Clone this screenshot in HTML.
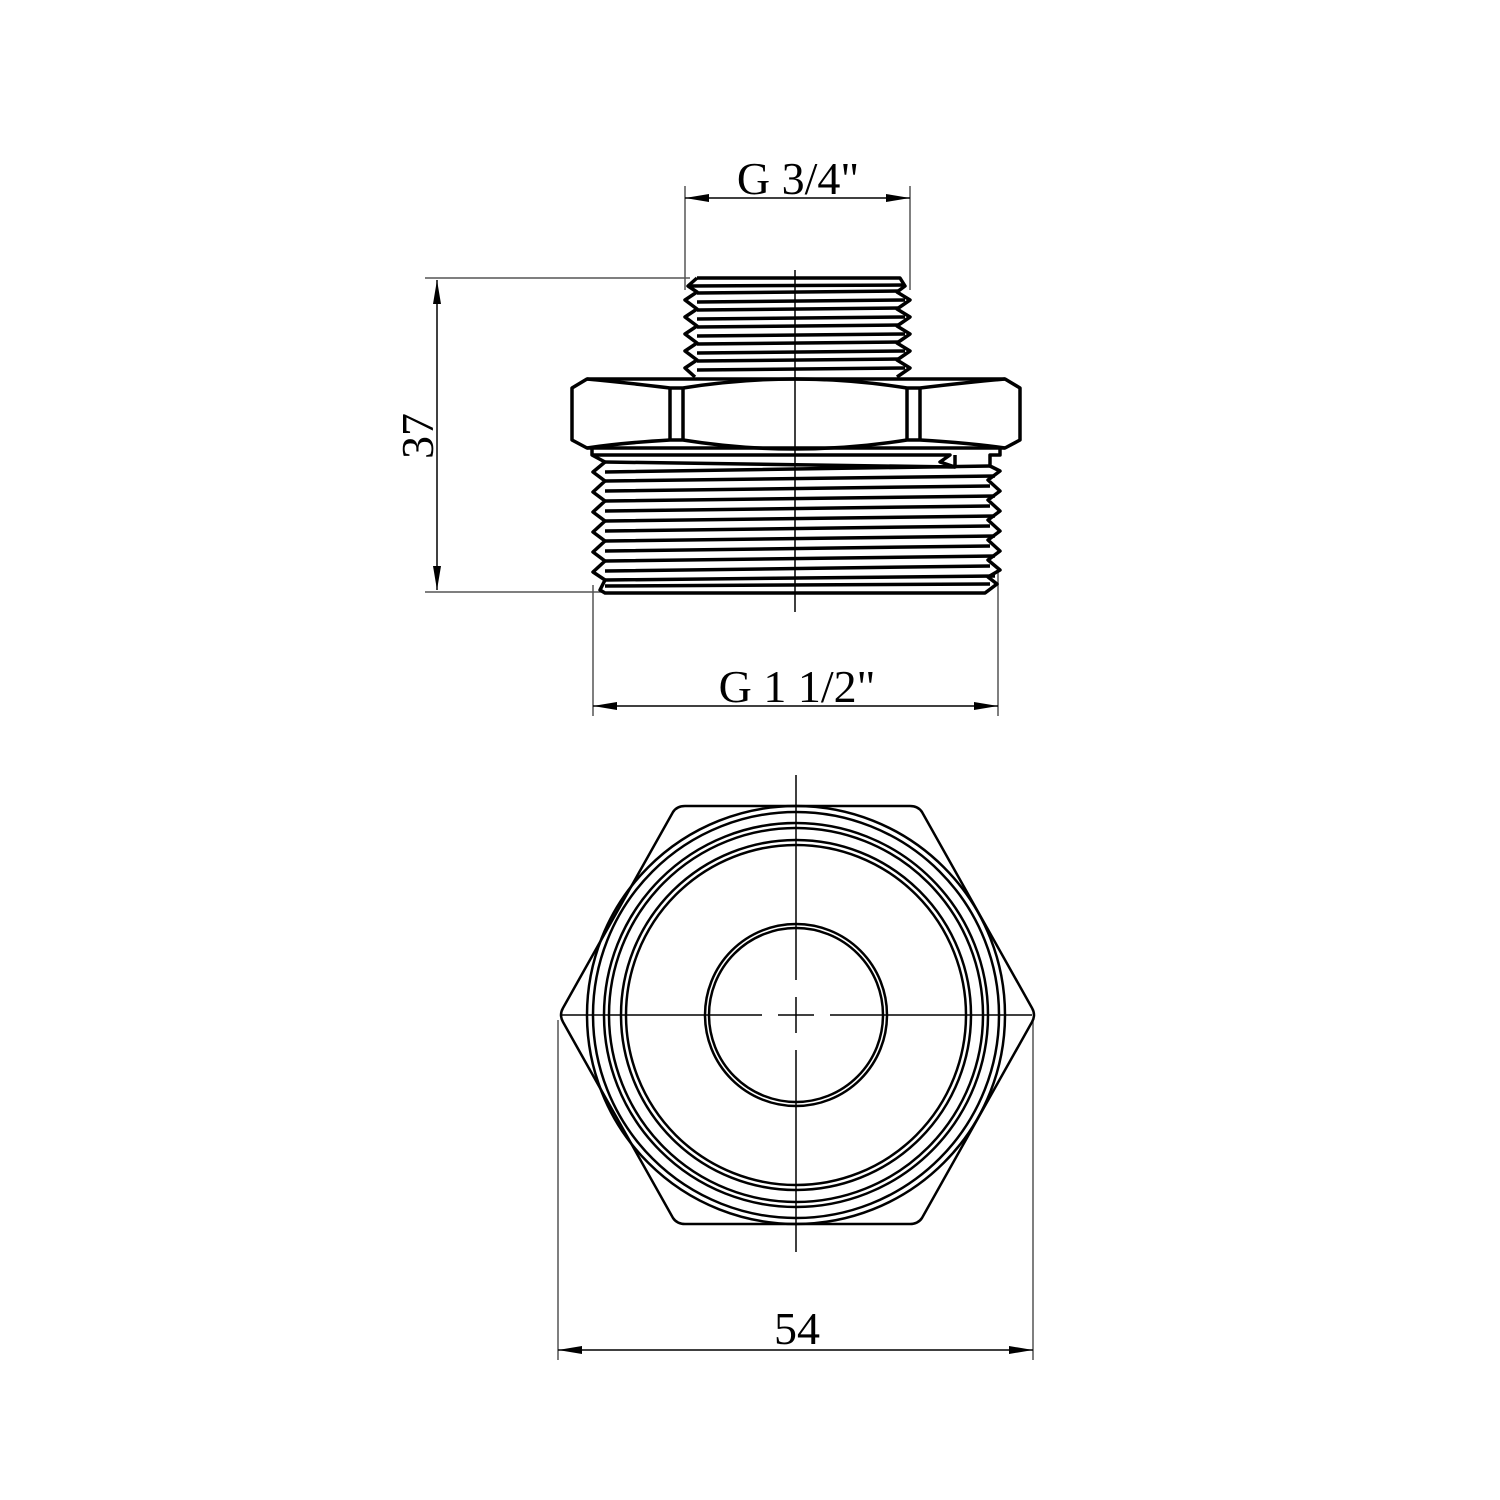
<!DOCTYPE html>
<html><head><style>html,body{margin:0;padding:0;background:#fff}svg{display:block}</style></head>
<body>
<svg width="1500" height="1500" viewBox="0 0 1500 1500" xmlns="http://www.w3.org/2000/svg">
<defs>
<marker id="a" viewBox="0 0 24 8" refX="24" refY="4" markerWidth="24" markerHeight="8" markerUnits="userSpaceOnUse" orient="auto-start-reverse"><path d="M0,0 L24,4 L0,8 Z" fill="#000"/></marker>
</defs>
<g font-family="Liberation Serif, serif" font-size="46" fill="#000">
<text x="798" y="194" text-anchor="middle">G 3/4"</text>
<text x="797" y="702" text-anchor="middle">G 1 1/2"</text>
<text x="797" y="1344" text-anchor="middle">54</text>
<text transform="translate(433,436) rotate(-90)" text-anchor="middle">37</text>
</g>
<g stroke="#555" stroke-width="1.5" fill="none">
<line x1="685" y1="186" x2="685" y2="290"/>
<line x1="910" y1="186" x2="910" y2="290"/>
<line x1="425" y1="278" x2="690" y2="278"/>
<line x1="425" y1="592" x2="605" y2="592"/>
<line x1="593" y1="585" x2="593" y2="716"/>
<line x1="998" y1="570" x2="998" y2="716"/>
<line x1="558" y1="1020" x2="558" y2="1360"/>
<line x1="1033" y1="1020" x2="1033" y2="1360"/>
</g>
<g stroke="#000" stroke-width="1.5">
<line x1="685" y1="198" x2="910" y2="198" marker-start="url(#a)" marker-end="url(#a)"/>
<line x1="593" y1="706" x2="998" y2="706" marker-start="url(#a)" marker-end="url(#a)"/>
<line x1="437" y1="280" x2="437" y2="590" marker-start="url(#a)" marker-end="url(#a)"/>
<line x1="558" y1="1350" x2="1033" y2="1350" marker-start="url(#a)" marker-end="url(#a)"/>
</g>
<g stroke="#000" stroke-width="3.5" fill="none" stroke-linejoin="round">
<path d="M697,278 L900,278 L905,286 L897,292 L910,300 L897,309 L910,317 L897,326 L910,334 L897,343 L910,351 L897,360 L910,368 L897,377"/>
<path d="M697,278 L688,286 L697,292 L685,300 L697,309 L685,317 L697,326 L685,334 L697,343 L685,351 L697,360 L685,368 L695,377"/>
<path d="M690,286 L905,285 M697,293 L900,291 M697,302 L905,300 M697,310 L900,308 M697,319 L905,317 M697,327 L900,325 M697,336 L905,334 M697,344 L900,342 M697,353 L905,351 M697,361 L900,359 M697,370 L905,368"/>
<path d="M587,379 L1005,379 L1020,388 L1020,440 L1005,448 L587,448 L572,440 L572,388 Z"/>
<path d="M670,388 L670,440 M683,388 L683,440 M907,388 L907,440 M920,388 L920,440"/>
<path d="M587,379 Q620,382 670,388 L683,388 Q795,370 907,388 L920,388 Q970,382 1005,379"/>
<path d="M587,448 Q620,443 670,440 L683,440 Q795,458 907,440 L920,440 Q970,443 1005,448"/>
<path d="M592,448 L592,455 L605,462 L593,472 L605,481 L593,492 L605,501 L593,512 L605,521 L593,532 L605,541 L593,552 L605,561 L593,572 L605,580 L600,590 L605,593 L985,593 L997,584 L988,577 L1000,570 L988,560 L1000,551 L988,540 L1000,531 L988,520 L1000,511 L988,500 L1000,491 L988,480 L1000,471 L990,466 L990,455 L1000,455 L1000,448"/>
<path d="M592,455 L950,455 L940,462 L955,467 L955,455"/>
<path d="M605,462 L955,467 M605,472 L990,466 M605,481 L995,476 M605,491 L990,486 M605,501 L995,496 M605,511 L990,506 M605,521 L995,516 M605,531 L990,526 M605,541 L995,536 M605,551 L990,546 M605,561 L995,556 M605,571 L990,566 M605,580 L995,576 M605,586 L990,584"/>
</g>
<line x1="795" y1="270" x2="795" y2="612" stroke="#000" stroke-width="1.5"/>
<g stroke="#000" stroke-width="2.5" fill="none">
<path d="M685,806 L910,806 Q918,806 922,812 L1032,1008 Q1036,1015 1032,1022 L922,1218 Q918,1224 910,1224 L685,1224 Q677,1224 673,1218 L563,1022 Q559,1015 563,1008 L673,812 Q677,806 685,806 Z"/>
<circle cx="796" cy="1015" r="209"/>
<circle cx="796" cy="1015" r="203"/>
<circle cx="796" cy="1015" r="192"/>
<circle cx="796" cy="1015" r="187"/>
<circle cx="796" cy="1015" r="175"/>
<circle cx="796" cy="1015" r="170"/>
<circle cx="796" cy="1015" r="91"/>
<circle cx="796" cy="1015" r="87"/>
</g>
<g stroke="#000" stroke-width="1.5">
<line x1="796" y1="775" x2="796" y2="980"/>
<line x1="796" y1="997" x2="796" y2="1033"/>
<line x1="796" y1="1050" x2="796" y2="1252"/>
<line x1="560" y1="1015" x2="762" y2="1015"/>
<line x1="778" y1="1015" x2="814" y2="1015"/>
<line x1="830" y1="1015" x2="1032" y2="1015"/>
</g>
</svg>
</body></html>
